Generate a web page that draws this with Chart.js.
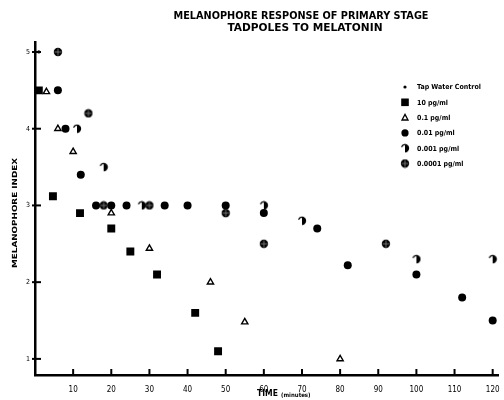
<!DOCTYPE html>
<html>
<head>
<meta charset="utf-8">
<script src="https://cdn.jsdelivr.net/npm/chart.js@4.4.0/dist/chart.umd.min.js"></script>
<style>
  html, body { margin: 0; padding: 0; background: #fff; }
</style>
</head>
<body>
<canvas id="chart" width="504" height="400"></canvas>
<script>
const titleLines = ['MELANOPHORE RESPONSE OF PRIMARY STAGE', 'TADPOLES TO MELATONIN'];
const xAxisTitle = 'TIME';
const xAxisUnit = '(minutes)';
const yAxisTitle = 'MELANOPHORE INDEX';
const xTicks = [10, 20, 30, 40, 50, 60, 70, 80, 90, 100, 110, 120];
const yTicks = [1, 2, 3, 4, 5];
const seriesNames = ['Tap Water Control', '10 pg/ml', '0.1 pg/ml', '0.01 pg/ml', '0.001 pg/ml', '0.0001 pg/ml'];

const tapTime = [1];
const tapIndex = [5];
const pg10Time = [1, 4.7, 11.8, 20, 25, 32, 42, 48];
const pg10Index = [4.5, 3.12, 2.9, 2.7, 2.4, 2.1, 1.6, 1.1];
const pg01Time = [3, 6, 10, 20, 30, 46, 55, 80];
const pg01Index = [4.48, 4.0, 3.7, 2.9, 2.44, 2.0, 1.48, 1.0];
const pg001Time = [6, 8, 12, 16, 20, 24, 34, 40, 50, 60, 74, 82, 100, 112, 120];
const pg001Index = [4.5, 4.0, 3.4, 3.0, 3.0, 3.0, 3.0, 3.0, 3.0, 2.9, 2.7, 2.22, 2.1, 1.8, 1.5];
const pg0001Time = [11, 18, 28, 60, 70, 100, 120];
const pg0001Index = [4.0, 3.5, 3.0, 3.0, 2.8, 2.3, 2.3];
const pg00001Time = [6, 14, 18, 30, 50, 60, 92];
const pg00001Index = [5.0, 4.2, 3.0, 3.0, 2.9, 2.5, 2.5];

const FONT = '"DejaVu Sans Condensed", "Liberation Sans Narrow", "DejaVu Sans", sans-serif';

function toPoints(xs, ys) {
    return xs.map((x, i) => ({ x: x, y: ys[i] }));
}

// half filled circle marker
function halfCircle() {
    const c = document.createElement('canvas');
    c.width = 10; c.height = 10;
    const g = c.getContext('2d');
    g.lineWidth = 1.2;
    g.beginPath();
    g.arc(5, 5, 3.6, -Math.PI * 0.9, -Math.PI / 2);
    g.stroke();
    g.beginPath();
    g.arc(5, 5, 4.2, -Math.PI / 2, Math.PI / 2);
    g.closePath();
    g.fill();
    return c;
}

// circle with a light cross
function crossCircle() {
    const c = document.createElement('canvas');
    c.width = 10; c.height = 10;
    const g = c.getContext('2d');
    g.beginPath();
    g.arc(5, 5, 4.2, 0, Math.PI * 2);
    g.fill();
    g.strokeStyle = '#888';
    g.lineWidth = 0.8;
    g.beginPath();
    g.moveTo(5, 1.5); g.lineTo(5, 8.5);
    g.moveTo(1.5, 5); g.lineTo(8.5, 5);
    g.stroke();
    return c;
}

const halfImg = halfCircle();
const crossImg = crossCircle();

const markers = [
    { style: 'circle', radius: 1.6, fill: '#000' },
    { style: 'rect', radius: 5.6, fill: '#000' },
    { style: 'triangle', radius: 3.6, fill: '#fff' },
    { style: 'circle', radius: 4, fill: '#000' },
    { style: halfImg, radius: 5, fill: '#000' },
    { style: crossImg, radius: 5, fill: '#000' }
];

const seriesData = [
    toPoints(tapTime, tapIndex),
    toPoints(pg10Time, pg10Index),
    toPoints(pg01Time, pg01Index),
    toPoints(pg001Time, pg001Index),
    toPoints(pg0001Time, pg0001Index),
    toPoints(pg00001Time, pg00001Index)
];

const datasets = seriesNames.map((name, i) => ({
    label: name,
    data: seriesData[i],
    pointStyle: markers[i].style,
    pointRadius: markers[i].radius,
    backgroundColor: markers[i].fill,
    borderColor: '#000',
    borderWidth: i === 2 ? 1.4 : 0,
    showLine: false
}));

function fitText(ctx, text, cx, cy, width) {
    const w = ctx.measureText(text).width;
    ctx.save();
    ctx.translate(cx, cy);
    ctx.scale(width / w, 1);
    ctx.fillText(text, 0, 0);
    ctx.restore();
}

const decorPlugin = {
    id: 'decor',
    afterDraw(chart) {
        const ctx = chart.ctx;
        const xs = chart.scales.x;
        const ys = chart.scales.y;
        const area = chart.chartArea;
        ctx.save();
        ctx.strokeStyle = '#000';
        ctx.fillStyle = '#000';

        // inside tick marks
        ctx.lineWidth = 2;
        xTicks.forEach(v => {
            const px = xs.getPixelForValue(v);
            ctx.beginPath();
            ctx.moveTo(px, area.bottom);
            ctx.lineTo(px, area.bottom - 6);
            ctx.stroke();
        });
        yTicks.forEach(v => {
            const py = ys.getPixelForValue(v);
            ctx.beginPath();
            ctx.moveTo(area.left - 3, py);
            ctx.lineTo(area.left + 6, py);
            ctx.stroke();
        });

        // title
        ctx.textAlign = 'center';
        ctx.textBaseline = 'middle';
        ctx.font = 'bold 10px ' + FONT;
        fitText(ctx, titleLines[0], 301, 16, 255);
        fitText(ctx, titleLines[1], 305, 28, 155);

        // x axis title
        ctx.textAlign = 'left';
        ctx.font = 'bold 8.5px ' + FONT;
        ctx.fillText(xAxisTitle, 257, 394);
        ctx.font = 'bold 6px ' + FONT;
        ctx.fillText(xAxisUnit, 281, 395);

        // y axis title
        ctx.save();
        ctx.translate(15, 213);
        ctx.rotate(-Math.PI / 2);
        ctx.textAlign = 'center';
        ctx.font = 'bold 7px ' + FONT;
        fitText(ctx, yAxisTitle, 0, 0, 110);
        ctx.restore();

        // legend
        ctx.textAlign = 'left';
        ctx.font = 'bold 7px ' + FONT;
        seriesNames.forEach((name, i) => {
            const y = 87 + i * 15.3;
            const m = markers[i];
            const x = 405;
            if (m.style === 'circle') {
                ctx.beginPath();
                ctx.arc(x, y, Math.min(m.radius, 3.6), 0, Math.PI * 2);
                ctx.fill();
            } else if (m.style === 'rect') {
                ctx.fillRect(x - 3.8, y - 3.8, 7.6, 7.6);
            } else if (m.style === 'triangle') {
                ctx.lineWidth = 1.3;
                ctx.beginPath();
                ctx.moveTo(x, y - 3.2);
                ctx.lineTo(x + 3, y + 2.4);
                ctx.lineTo(x - 3, y + 2.4);
                ctx.closePath();
                ctx.stroke();
            } else {
                ctx.drawImage(m.style, x - 5, y - 5);
            }
            ctx.fillText(name, 417, y + 0.5);
        });
        ctx.restore();
    }
};

new Chart(document.getElementById('chart').getContext('2d'), {
    type: 'scatter',
    data: { datasets: datasets },
    options: {
        responsive: false,
        animation: false,
        devicePixelRatio: 1,
        layout: { padding: { top: 42, right: 4, left: 0, bottom: 0 } },
        plugins: {
            legend: { display: false },
            tooltip: { enabled: false }
        },
        scales: {
            x: {
                type: 'linear',
                min: 0,
                max: 121.5,
                grid: { display: false },
                border: { display: true, color: '#000', width: 2.5 },
                afterBuildTicks: scale => { scale.ticks = xTicks.map(v => ({ value: v })); },
                afterFit: scale => { scale.height = 25; },
                ticks: {
                    color: '#000',
                    padding: 2,
                    autoSkip: false,
                    maxRotation: 0,
                    font: { family: FONT, size: 8 }
                }
            },
            y: {
                type: 'linear',
                min: 0.79,
                max: 5.13,
                grid: { display: false },
                border: { display: true, color: '#000', width: 2.5 },
                afterBuildTicks: scale => { scale.ticks = yTicks.map(v => ({ value: v })); },
                afterFit: scale => { scale.width = 35; },
                ticks: {
                    color: '#000',
                    padding: -3,
                    font: { family: FONT, size: 7 }
                }
            }
        }
    },
    plugins: [decorPlugin]
});
</script>
</body>
</html>
